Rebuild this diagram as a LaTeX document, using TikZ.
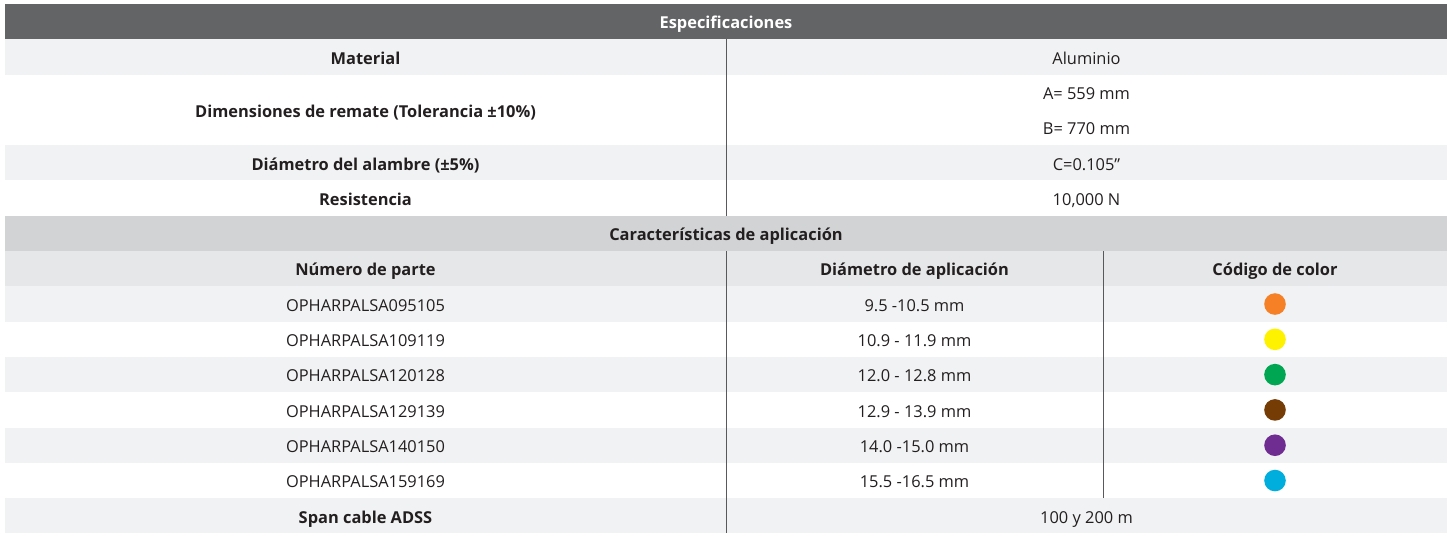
\documentclass[tikz,border=0pt]{standalone}
\usepackage{fontspec}
\setmainfont{Open Sans}
\definecolor{hdr}{HTML}{636466}
\definecolor{lite}{HTML}{F1F2F3}
\definecolor{mid}{HTML}{E6E7E8}
\definecolor{sec}{HTML}{D1D3D4}
\definecolor{ink}{HTML}{231F20}
\definecolor{rule}{HTML}{58595B}
\definecolor{cOrange}{HTML}{F58025}
\definecolor{cYellow}{HTML}{FFF200}
\definecolor{cGreen}{HTML}{00A651}
\definecolor{cBrown}{HTML}{763C05}
\definecolor{cPurple}{HTML}{6F2C91}
\definecolor{cCyan}{HTML}{00AEDE}
\tikzset{
  cell/.style={inner sep=0pt, text height=0.72em, text depth=0pt, anchor=center, text=ink, font=\fontsize{8.2pt}{10pt}\selectfont},
  bcell/.style={cell, font=\fontsize{8.2pt}{10pt}\selectfont\bfseries},
  hcell/.style={bcell, text=white},
  divider/.style={draw=rule, line width=0.5pt},
  dot/.style={circle, inner sep=0pt, minimum size=10.8pt}
}
\begin{document}
\begin{tikzpicture}[x=0.5pt, y=-0.5pt]
\useasboundingbox (0,0) rectangle (1453,533);
% row backgrounds
\fill[hdr]  (5,4) rectangle (1447,39.3);
\fill[lite] (5,39.3) rectangle (1447,74.6);
\fill[lite] (5,145.2) rectangle (1447,180.5);
\fill[sec]  (5,215.8) rectangle (1447,251.1);
\fill[mid]  (5,251.1) rectangle (1447,286.4);
\fill[lite] (5,286.4) rectangle (1447,321.7);
\fill[lite] (5,357) rectangle (1447,392.3);
\fill[lite] (5,427.6) rectangle (1447,462.9);
\fill[lite] (5,498.2) rectangle (1447,533.5);
% dividers
\coordinate (d1t) at (726,39.3);  \coordinate (d1b) at (726,215.8);
\coordinate (d2t) at (726,251.1); \coordinate (d2b) at (726,533.5);
\coordinate (d3t) at (1103,251.1); \coordinate (d3b) at (1103,498.2);
\draw[divider] (d1t) -- (d1b);
\draw[divider] (d2t) -- (d2b);
\draw[divider] (d3t) -- (d3b);
% top section
\node[hcell] (espec) at (726,21.65) {Especificaciones};
\node[bcell] (mat) at (365.5,56.95) {Material};
\node[cell]  (alu) at (1086.5,56.95) {Aluminio};
\node[bcell] (dim) at (365.5,109.9) {Dimensiones de remate (Tolerancia ±10\%)};
\node[cell]  (dimA) at (1086.5,92.25) {A= 559 mm};
\node[cell]  (dimB) at (1086.5,127.55) {B= 770 mm};
\node[bcell] (diam) at (365.5,162.85) {Diámetro del alambre (±5\%)};
\node[cell]  (diamv) at (1086.5,162.85) {C=0.105”};
\node[bcell] (res) at (365.5,198.15) {Resistencia};
\node[cell]  (resv) at (1086.5,198.15) {10,000 N};
% application section
\node[bcell] (carac) at (726,233.45) {Características de aplicación};
\node[bcell] (hnum) at (365.5,268.75) {Número de parte};
\node[bcell] (hdia) at (914.5,268.75) {Diámetro de aplicación};
\node[bcell] (hcol) at (1275,268.75) {Código de color};
% data rows
\node[cell] (p1) at (365.5,304.05) {OPHARPALSA095105};
\node[cell] (a1) at (914.5,304.05) {9.5 -10.5 mm};
\node[dot, fill=cOrange] (c1) at (1275,304.05) {};
\node[cell] (p2) at (365.5,339.35) {OPHARPALSA109119};
\node[cell] (a2) at (914.5,339.35) {10.9 - 11.9 mm};
\node[dot, fill=cYellow] (c2) at (1275,339.35) {};
\node[cell] (p3) at (365.5,374.65) {OPHARPALSA120128};
\node[cell] (a3) at (914.5,374.65) {12.0 - 12.8 mm};
\node[dot, fill=cGreen] (c3) at (1275,374.65) {};
\node[cell] (p4) at (365.5,409.95) {OPHARPALSA129139};
\node[cell] (a4) at (914.5,409.95) {12.9 - 13.9 mm};
\node[dot, fill=cBrown] (c4) at (1275,409.95) {};
\node[cell] (p5) at (365.5,445.25) {OPHARPALSA140150};
\node[cell] (a5) at (914.5,445.25) {14.0 -15.0 mm};
\node[dot, fill=cPurple] (c5) at (1275,445.25) {};
\node[cell] (p6) at (365.5,480.55) {OPHARPALSA159169};
\node[cell] (a6) at (914.5,480.55) {15.5 -16.5 mm};
\node[dot, fill=cCyan] (c6) at (1275,480.55) {};
\node[bcell] (span) at (365.5,515.85) {Span cable ADSS};
\node[cell]  (spanv) at (1086.5,515.85) {100 y 200 m};
\end{tikzpicture}
\end{document}
